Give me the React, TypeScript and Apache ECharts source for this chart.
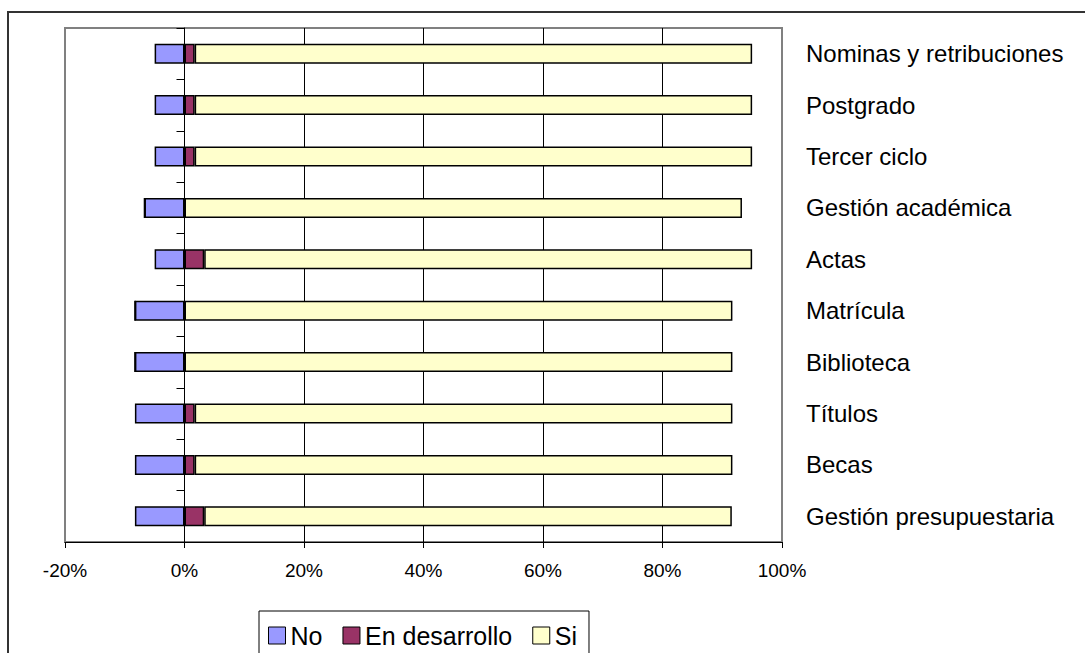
import React, { useEffect, useRef } from "react";
import * as echarts from "echarts";

const categories = [
  "Nominas y retribuciones",
  "Postgrado",
  "Tercer ciclo",
  "Gestión académica",
  "Actas",
  "Matrícula",
  "Biblioteca",
  "Títulos",
  "Becas",
  "Gestión presupuestaria",
];
const noValues = [-5, -5, -5, -6.7, -5, -8.3, -8.3, -8.3, -8.3, -8.3];
const enDesarrolloValues = [1.7, 1.7, 1.7, 0, 3.3, 0, 0, 1.7, 1.7, 3.3];
const siValues = [93.3, 93.3, 93.3, 93.3, 91.7, 91.7, 91.7, 90, 90, 88.3];
const seriesNames = ["No", "En desarrollo", "Si"];
const seriesColors = ["#9999FF", "#993366", "#FFFFCC"];

const FONT = "'Liberation Sans', Arial, sans-serif";

export default function App() {
  const ref = useRef<HTMLDivElement>(null);
  useEffect(() => {
    if (!ref.current) return;
    const chart = echarts.init(ref.current, null, { renderer: "svg" });
    const values = [noValues, enDesarrolloValues, siValues];
    chart.setOption({
      animation: false,
      backgroundColor: "#fff",
      textStyle: { fontFamily: FONT },
      graphic: [
        {
          type: "rect",
          shape: { x: 8, y: 12, width: 1300, height: 1000 },
          style: { fill: "none", stroke: "#333", lineWidth: 2 },
          silent: true,
        },
      ],
      grid: {
        left: 65,
        top: 28,
        right: 303,
        bottom: 111,
        show: true,
        borderColor: "#808080",
        borderWidth: 2,
        backgroundColor: "transparent",
      },
      legend: {
        data: seriesNames,
        left: 259,
        top: 611,
        orient: "horizontal",
        itemWidth: 17,
        itemHeight: 17,
        itemGap: 20,
        padding: [12, 12, 40, 9],
        borderColor: "#000",
        borderWidth: 1,
        icon: "rect",
        itemStyle: { borderColor: "#000", borderWidth: 1 },
        textStyle: { fontSize: 25, color: "#000", fontFamily: FONT },
      },
      xAxis: {
        type: "value",
        min: -20,
        max: 100,
        interval: 20,
        axisLine: { show: true, lineStyle: { color: "#000", width: 1 } },
        axisTick: { show: true, length: 6, lineStyle: { color: "#000" } },
        axisLabel: {
          formatter: "{value}%",
          fontSize: 19,
          color: "#000",
          margin: 19,
          fontFamily: FONT,
        },
        splitLine: {
          show: true,
          showMinLine: false,
          showMaxLine: false,
          lineStyle: { color: "#000", width: 1 },
        },
      },
      yAxis: [
        {
          type: "category",
          data: categories,
          inverse: true,
          position: "left",
          axisLine: { show: true, onZero: true, lineStyle: { color: "#000", width: 1 } },
          axisTick: { show: true, length: 8, lineStyle: { color: "#000" } },
          axisLabel: { show: false },
          splitLine: { show: false },
        },
        {
          type: "category",
          data: categories,
          inverse: true,
          position: "right",
          axisLine: { show: false },
          axisTick: { show: false },
          axisLabel: {
            show: true,
            margin: 24,
            fontSize: 24,
            color: "#000",
            align: "left",
            fontFamily: FONT,
          },
          splitLine: { show: false },
        },
      ],
      series: seriesNames.map((name, i) => ({
        name,
        type: "bar",
        stack: "total",
        yAxisIndex: 0,
        barWidth: 20,
        data: values[i],
        itemStyle: {
          color: seriesColors[i],
          borderColor: "#000",
          borderWidth: 1.5,
        },
      })),
    });
    return () => chart.dispose();
  }, []);
  return (
    <div
      ref={ref}
      style={{ position: "fixed", left: 0, top: 0, width: 1085, height: 653 }}
    />
  );
}
